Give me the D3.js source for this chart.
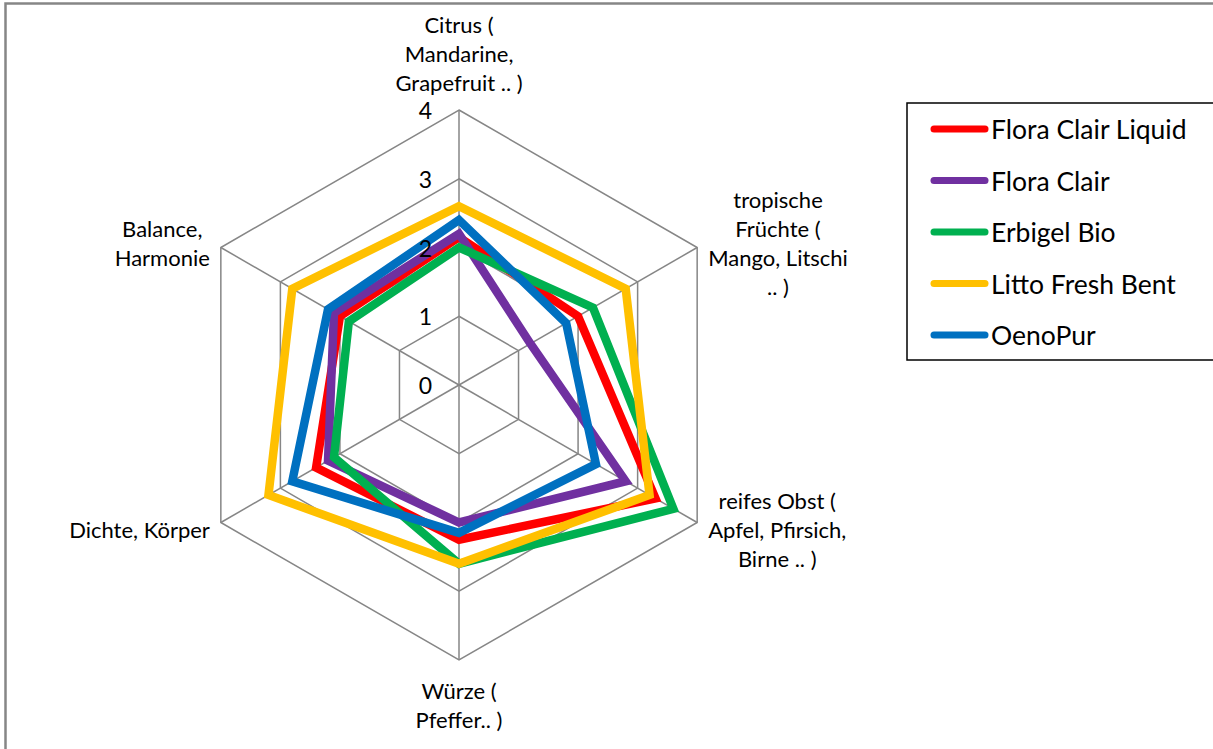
<!DOCTYPE html>
<html>
<head>
<meta charset="utf-8">
<script src="https://cdn.jsdelivr.net/npm/d3@7"></script>
<style>
  body { margin: 0; background: #fff; }
  text { font-family: Lato, "Open Sans", sans-serif; fill: #000; }
</style>
</head>
<body>
<svg id="chart" width="1213" height="749"></svg>
<script>
// axis categories, clockwise from the top
const categories = [
  ["Citrus (", "Mandarine,", "Grapefruit .. )"],
  ["tropische", "Früchte (", "Mango, Litschi", ".. )"],
  ["reifes Obst (", "Apfel, Pfirsich,", "Birne .. )"],
  ["Würze (", "Pfeffer.. )"],
  ["Dichte, Körper"],
  ["Balance,", "Harmonie"]
];
const seriesNames = ["Flora Clair Liquid", "Flora Clair", "Erbigel Bio", "Litto Fresh Bent", "OenoPur"];
const floraClairLiquid = [2.15, 2.0, 3.3, 2.25, 2.4, 2.0];
const floraClair       = [2.2, 1.2, 2.8, 2.0, 2.2, 2.1];
const erbigelBio       = [2.0, 2.25, 3.6, 2.6, 2.1, 1.85];
const littoFreshBent   = [2.6, 2.8, 3.2, 2.6, 3.2, 2.8];
const oenoPur          = [2.4, 1.8, 2.3, 2.15, 2.8, 2.2];
const tickValues = [0, 1, 2, 3, 4];

const colors = ["#FF0000", "#7030A0", "#00B050", "#FFC000", "#0070C0"];
const seriesValues = [floraClairLiquid, floraClair, erbigelBio, littoFreshBent, oenoPur];

const svg = d3.select("#chart");
const cx = 459, cy = 385;
const gridColor = "#868686";

// outer chart frame (runs off the right and bottom edge)
svg.append("rect")
  .attr("x", 5.5).attr("y", 3.5)
  .attr("width", 1400).attr("height", 1000)
  .attr("fill", "none")
  .attr("stroke", gridColor)
  .attr("stroke-width", 2.5);

const r = d3.scaleLinear().domain([0, 4]).range([0, 275]);
const angle = d3.scaleLinear().domain([0, categories.length]).range([0, 2 * Math.PI]);

const g = svg.append("g").attr("transform", `translate(${cx},${cy})`);

const radial = d3.lineRadial()
  .angle((d, i) => angle(i))
  .radius(d => r(d))
  .curve(d3.curveLinearClosed);

// rings
g.selectAll(".ring")
  .data(tickValues.filter(t => t > 0))
  .enter().append("path")
  .attr("class", "ring")
  .attr("d", t => radial(categories.map(() => t)))
  .attr("fill", "none")
  .attr("stroke", gridColor)
  .attr("stroke-width", 1.5);

// spokes
const point = (i, v) => [Math.sin(angle(i)) * r(v), -Math.cos(angle(i)) * r(v)];
g.selectAll(".spoke")
  .data(categories)
  .enter().append("line")
  .attr("class", "spoke")
  .attr("x1", 0).attr("y1", 0)
  .attr("x2", (d, i) => point(i, 4)[0])
  .attr("y2", (d, i) => point(i, 4)[1])
  .attr("stroke", gridColor)
  .attr("stroke-width", 1.5);

// series
g.selectAll(".series")
  .data(seriesValues)
  .enter().append("path")
  .attr("class", "series")
  .attr("d", d => radial(d))
  .attr("fill", "none")
  .attr("stroke", (d, i) => colors[i])
  .attr("stroke-width", 8.5)
  .attr("stroke-linejoin", "miter");

// category labels
const lineH = 29;
const labels = g.selectAll(".cat")
  .data(categories)
  .enter().append("text")
  .attr("class", "cat")
  .attr("text-anchor", "middle")
  .style("font-size", "22px");

labels.each(function (lines, i) {
  const t = d3.select(this);
  lines.forEach((l, k) => {
    t.append("tspan").attr("x", 0).attr("dy", k === 0 ? 0 : lineH).text(l);
  });
  let w = 0;
  t.selectAll("tspan").each(function () { w = Math.max(w, this.getComputedTextLength()); });
  const [px, py] = point(i, 4);
  const n = lines.length;
  let x, y;
  const s = Math.sin(angle(i));
  if (Math.abs(s) < 0.01) {
    x = px;
    y = py < 0 ? py - 28 - (n - 1) * lineH : py + 30;
  } else {
    x = px + Math.sign(s) * (11 + w / 2);
    y = py - (n - 1) * lineH / 2 + (py < 0 ? -5 : 6);
  }
  t.attr("transform", `translate(${x},${y})`)
    .attr("dominant-baseline", "central");
  t.selectAll("tspan").attr("dominant-baseline", "central");
});

// tick labels on the top axis
g.selectAll(".tick")
  .data(tickValues)
  .enter().append("text")
  .attr("class", "tick")
  .attr("x", -27)
  .attr("y", d => -r(d))
  .attr("text-anchor", "end")
  .attr("dominant-baseline", "central")
  .style("font-size", "23px")
  .text(d => d);

// legend
const legend = svg.append("g").attr("transform", "translate(907,103)");
legend.append("rect")
  .attr("x", 0).attr("y", 0)
  .attr("width", 400).attr("height", 257)
  .attr("fill", "#fff")
  .attr("stroke", "#000")
  .attr("stroke-width", 1.5);

const item = legend.selectAll(".item")
  .data(seriesNames)
  .enter().append("g")
  .attr("class", "item")
  .attr("transform", (d, i) => `translate(0,${26 + i * 51.5})`);

item.append("line")
  .attr("x1", 27).attr("x2", 78)
  .attr("y1", 0).attr("y2", 0)
  .attr("stroke", (d, i) => colors[i])
  .attr("stroke-width", 7)
  .attr("stroke-linecap", "round");

item.append("text")
  .attr("x", 84)
  .attr("y", 0)
  .attr("dominant-baseline", "central")
  .style("font-size", "26.5px")
  .text(d => d);
</script>
</body>
</html>
